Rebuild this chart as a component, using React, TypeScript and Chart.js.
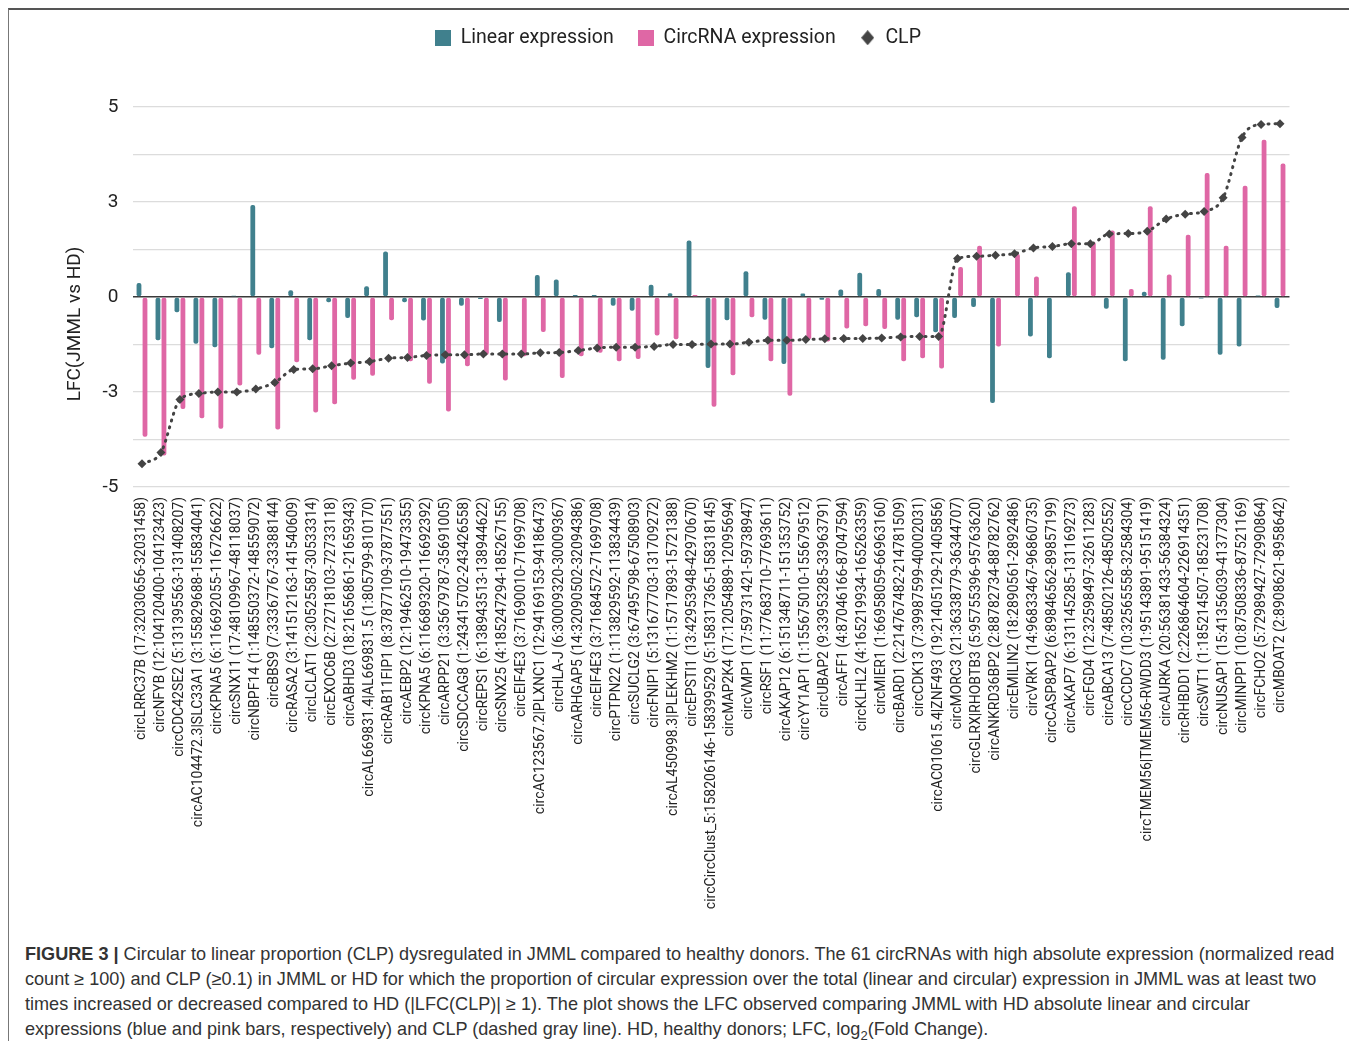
import React, { useEffect, useRef } from 'react';
import { Chart, registerables } from 'chart.js';

Chart.register(...registerables);

// ---------------- DATA ----------------
const categories: string[] = [
  'circLRRC37B (17:32030656-32031458)',
  'circNFYB (12:104120400-104123423)',
  'circCDC42SE2 (5:131395563-131408207)',
  'circAC104472.3|SLC33A1 (3:155829688-155834041)',
  'circKPNA5 (6:116692055-116726622)',
  'circSNX11 (17:48109967-48118037)',
  'circNBPF14 (1:148550372-148559072)',
  'circBBS9 (7:33367767-33388144)',
  'circRASA2 (3:141512163-141540609)',
  'circLCLAT1 (2:30525587-30533314)',
  'circEXOC6B (2:72718103-72733118)',
  'circABHD3 (18:21656861-21659343)',
  'circAL669831.4|AL669831.5 (1:805799-810170)',
  'circRAB11FIP1 (8:37877109-37877551)',
  'circAEBP2 (12:19462510-19473355)',
  'circKPNA5 (6:116689320-116692392)',
  'circARPP21 (3:35679787-35691005)',
  'circSDCCAG8 (1:243415702-243426558)',
  'circREPS1 (6:138943513-138944622)',
  'circSNX25 (4:185247294-185267155)',
  'circEIF4E3 (3:71690010-71699708)',
  'circAC123567.2|PLXNC1 (12:94169153-94186473)',
  'circHLA-J (6:30009320-30009367)',
  'circARHGAP5 (14:32090502-32094386)',
  'circEIF4E3 (3:71684572-71699708)',
  'circPTPN22 (1:113829592-113834439)',
  'circSUCLG2 (3:67495798-67508903)',
  'circFNIP1 (5:131677703-131709272)',
  'circAL450998.3|PLEKHM2 (1:15717893-15721388)',
  'circEPSTI1 (13:42953948-42970670)',
  'circCircClust_5:158206146-158399529 (5:158317365-158318145)',
  'circMAP2K4 (17:12054889-12095694)',
  'circVMP1 (17:59731421-59738947)',
  'circRSF1 (11:77683710-77693611)',
  'circAKAP12 (6:151348711-151353752)',
  'circYY1AP1 (1:155675010-155679512)',
  'circUBAP2 (9:33953285-33963791)',
  'circAFF1 (4:87046166-87047594)',
  'circKLHL2 (4:165219934-165263359)',
  'circMIER1 (1:66958059-66963160)',
  'circBARD1 (2:214767482-214781509)',
  'circCDK13 (7:39987599-40002031)',
  'circAC010615.4|ZNF493 (19:21405129-21405856)',
  'circMORC3 (21:36338779-36344707)',
  'circGLRX|RHOBTB3 (5:95755396-95763620)',
  'circANKRD36BP2 (2:88782734-88782762)',
  'circEMILIN2 (18:2890561-2892486)',
  'circVRK1 (14:96833467-96860735)',
  'circCASP8AP2 (6:89846562-89857199)',
  'circAKAP7 (6:131145285-131169273)',
  'circFGD4 (12:32598497-32611283)',
  'circABCA13 (7:48502126-48502552)',
  'circCCDC7 (10:32565558-32584304)',
  'circTMEM56|TMEM56-RWDD3 (1:95143891-95151419)',
  'circAURKA (20:56381433-56384324)',
  'circRHBDD1 (2:226864604-226914351)',
  'circSWT1 (1:185214507-185231708)',
  'circNUSAP1 (15:41356039-41377304)',
  'circMINPP1 (10:87508336-87521169)',
  'circFCHO2 (5:72989427-72990864)',
  'circMBOAT2 (2:8908621-8958642)',
];

const linearExpression: number[] = [
  0.37, -1.14, -0.40, -1.23, -1.32, 0.03, 2.42, -1.35, 0.18, -1.14,
  -0.14, -0.55, 0.28, 1.20, -0.14, -0.62, -1.75, -0.23, -0.05, -0.66,
  0.0, 0.58, 0.46, 0.05, 0.05, -0.23, -0.36, 0.32, 0.10, 1.49,
  -1.87, -0.61, 0.68, -0.60, -1.76, 0.09, -0.07, 0.20, 0.64, 0.21,
  -0.60, -0.53, -0.93, -0.55, -0.26, -2.79, 0.0, -1.04, -1.61, 0.65,
  0.0, -0.31, -1.69, 0.14, -1.65, -0.77, -0.04, -1.52, -1.30, 0.04, -0.29,
];

const circRNAExpression: number[] = [
  -3.68, -4.17, -2.95, -3.19, -3.47, -2.33, -1.52, -3.49, -1.72, -3.04,
  -2.82, -2.18, -2.07, -0.61, -1.69, -2.28, -3.01, -1.82, -1.52, -2.20,
  -1.56, -0.92, -2.13, -1.56, -1.47, -1.69, -1.63, -1.01, -1.11, 0.05,
  -2.89, -2.06, -0.53, -1.69, -2.60, -1.11, -1.17, -0.83, -0.77, -0.84,
  -1.69, -1.61, -1.88, 0.79, 1.35, -1.30, 1.13, 0.54, 0.02, 2.39,
  1.45, 1.75, 0.21, 2.39, 0.59, 1.64, 3.26, 1.35, 2.93, 4.14, 3.51,
];

const clpValues: number[] = [
  -4.39, -4.09, -2.70, -2.54, -2.50, -2.50, -2.42, -2.25, -1.91, -1.89,
  -1.81, -1.74, -1.70, -1.61, -1.59, -1.54, -1.52, -1.52, -1.50, -1.50,
  -1.50, -1.47, -1.46, -1.41, -1.34, -1.32, -1.32, -1.30, -1.25, -1.25,
  -1.24, -1.24, -1.19, -1.14, -1.14, -1.12, -1.10, -1.09, -1.09, -1.08,
  -1.05, -1.04, -1.04, 1.01, 1.07, 1.10, 1.14, 1.29, 1.33, 1.40,
  1.40, 1.66, 1.67, 1.73, 2.05, 2.18, 2.25, 2.61, 4.20, 4.54, 4.56,
];

const seriesNames: string[] = ['Linear expression', 'CircRNA expression', 'CLP'];
const yTickValues: number[] = [5, 2.5, 0, -2.5, -5];
const yTickLabels: string[] = ['5', '3', '0', '-3', '-5'];
const yAxisTitle = 'LFC(JMML vs HD)';

// ---------------- STYLE ----------------
const TEAL = '#40808d';
const PINK = '#df67a5';
const DARK = '#444444';
const TEXT = '#222222';
const FONT = 'Roboto';

function squareIcon(color: string, size: number) {
  const c = document.createElement('canvas');
  c.width = size;
  c.height = size;
  const g = c.getContext('2d')!;
  g.fillStyle = color;
  g.fillRect(0, 0, size, size);
  return c;
}

function diamondIcon(color: string, w: number, h: number) {
  const c = document.createElement('canvas');
  c.width = w;
  c.height = h;
  const g = c.getContext('2d')!;
  g.fillStyle = color;
  g.beginPath();
  g.moveTo(w / 2, 0);
  g.lineTo(w, h / 2);
  g.lineTo(w / 2, h);
  g.lineTo(0, h / 2);
  g.closePath();
  g.fill();
  return c;
}

const yTitlePlugin = {
  id: 'yTitlePlugin',
  afterDraw(chart: any) {
    const { ctx, chartArea } = chart;
    ctx.save();
    ctx.font = `19px ${FONT}`;
    ctx.fillStyle = TEXT;
    ctx.textAlign = 'center';
    ctx.textBaseline = 'middle';
    ctx.translate(66, (chartArea.top + chartArea.bottom) / 2 + 27);
    ctx.rotate(-Math.PI / 2);
    ctx.fillText(yAxisTitle, 0, 0);
    ctx.restore();
  },
};

function ChartCanvas() {
  const ref = useRef<HTMLCanvasElement | null>(null);

  useEffect(() => {
    if (!ref.current) return;
    const icons = [squareIcon(TEAL, 16), squareIcon(PINK, 16), diamondIcon(DARK, 13, 15)];
    const chart = new Chart(ref.current, {
      type: 'bar',
      data: {
        labels: categories,
        datasets: [
          {
            type: 'bar',
            label: seriesNames[0],
            data: linearExpression,
            backgroundColor: TEAL,
            categoryPercentage: 0.633,
            barPercentage: 0.8,
            borderRadius: 2,
            borderSkipped: false,
            order: 1,
          },
          {
            type: 'bar',
            label: seriesNames[1],
            data: circRNAExpression,
            backgroundColor: PINK,
            categoryPercentage: 0.633,
            barPercentage: 0.8,
            borderRadius: 2,
            borderSkipped: false,
            order: 1,
          },
          {
            type: 'line',
            label: seriesNames[2],
            data: clpValues,
            borderColor: DARK,
            borderWidth: 3,
            borderDash: [1, 6],
            borderCapStyle: 'round',
            pointStyle: 'rectRot',
            pointRadius: 4.5,
            pointBackgroundColor: DARK,
            pointBorderWidth: 0,
            cubicInterpolationMode: 'monotone',
            fill: false,
            order: 0,
          } as any,
        ],
      },
      options: {
        animation: false,
        responsive: true,
        maintainAspectRatio: false,
        events: [],
        layout: { padding: { left: 0, right: 7, top: -6, bottom: 0 } },
        plugins: {
          tooltip: { enabled: false },
          title: {
            display: true,
            text: '',
            position: 'top',
            weight: 500,
            padding: { top: 18.75, bottom: 18.75 },
            font: { size: 10 },
          } as any,
          legend: {
            display: true,
            position: 'top',
            labels: {
              usePointStyle: true,
              boxWidth: 16,
              boxHeight: 16,
              padding: 24,
              color: TEXT,
              font: { family: FONT, size: 19.5 },
              generateLabels: () =>
                seriesNames.map((name, i) => ({
                  text: name,
                  pointStyle: icons[i] as any,
                  fillStyle: i === 0 ? TEAL : i === 1 ? PINK : DARK,
                  strokeStyle: 'rgba(0,0,0,0)',
                  lineWidth: 0,
                  hidden: false,
                  datasetIndex: i,
                  fontColor: TEXT,
                })),
            },
          },
        },
        scales: {
          x: {
            grid: { display: false, drawTicks: false },
            border: { display: false },
            ticks: {
              autoSkip: false,
              minRotation: 90,
              maxRotation: 90,
              padding: 10,
              color: TEXT,
              font: { family: FONT, size: 14 },
            },
            afterFit: (scale: any) => {
              scale.height = 435;
            },
          },
          y: {
            min: -5,
            max: 5,
            grid: {
              drawTicks: false,
              color: (c: any) =>
                c.tick && Math.abs(c.tick.value) < 1e-9 ? '#3a3a3a' : '#dcdcdc',
              lineWidth: (c: any) => (c.tick && Math.abs(c.tick.value) < 1e-9 ? 1.5 : 1.2),
            },
            border: { display: false },
            ticks: {
              stepSize: 1.25,
              padding: 14,
              color: TEXT,
              font: { family: FONT, size: 19 },
              callback: (v: any) => {
                const i = yTickValues.findIndex((t) => Math.abs(t - Number(v)) < 1e-6);
                return i >= 0 ? yTickLabels[i] : '';
              },
            },
            afterFit: (scale: any) => {
              scale.width = 123.5;
            },
          },
          yRightSpace: {
            type: 'linear',
            position: 'right',
            display: true,
            grid: { display: false, drawTicks: false },
            border: { display: false },
            ticks: { display: false },
            afterFit: (scale: any) => {
              scale.width = 57.5;
            },
          } as any,
        },
      },
      plugins: [yTitlePlugin],
    });
    return () => chart.destroy();
  }, []);

  return (
    <div style={{ position: 'relative', width: 1345, height: 912 }}>
      <canvas ref={ref} />
    </div>
  );
}

export default function App() {
  return (
    <div style={{ width: 1347, height: 1033, overflow: 'hidden' }}>
      <div
        style={{
          boxSizing: 'border-box',
          width: 1347,
          height: 1033,
          borderTop: '2px solid #555',
          borderLeft: '1px solid #777',
          borderRight: '1px solid #777',
          background: '#fff',
        }}
      >
        <ChartCanvas />
        <div
          style={{
            marginTop: 20,
            paddingLeft: 16,
            fontFamily: '"Liberation Sans", Arial, sans-serif',
            fontSize: 18.1,
            lineHeight: '25px',
            color: '#333',
            whiteSpace: 'nowrap',
          }}
        >
          <div>
            <b>FIGURE 3 |</b> Circular to linear proportion (CLP) dysregulated in JMML compared to
            healthy donors. The 61 circRNAs with high absolute expression (normalized read
          </div>
          <div>
            count ≥ 100) and CLP (≥0.1) in JMML or HD for which the proportion of circular
            expression over the total (linear and circular) expression in JMML was at least two
          </div>
          <div>
            times increased or decreased compared to HD (|LFC(CLP)| ≥ 1). The plot shows the LFC
            observed comparing JMML with HD absolute linear and circular
          </div>
          <div>
            expressions (blue and pink bars, respectively) and CLP (dashed gray line). HD, healthy
            donors; LFC, log<sub style={{ fontSize: 13, lineHeight: 0 }}>2</sub>(Fold Change).
          </div>
        </div>
      </div>
    </div>
  );
}
